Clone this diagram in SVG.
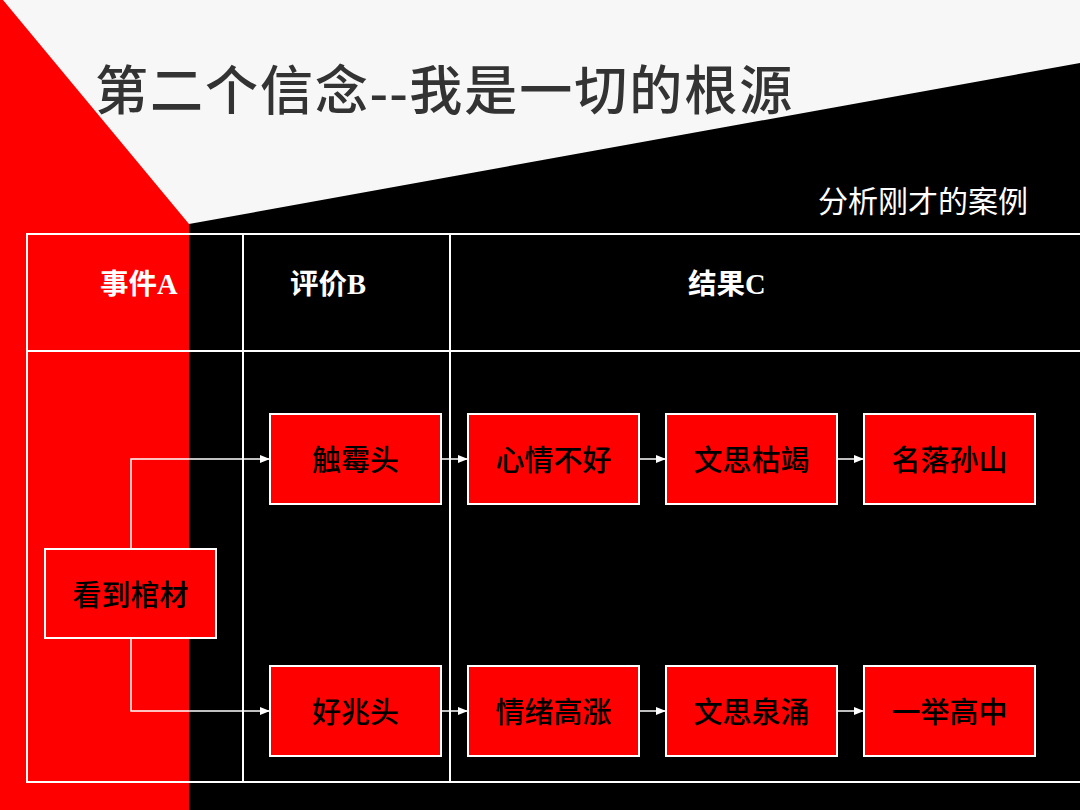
<svg xmlns="http://www.w3.org/2000/svg" width="1080" height="810" viewBox="0 0 1080 810">
<style>
.box{fill:#ff0000;stroke:#ffffff;stroke-width:2}
.bt{font-family:"Noto Sans CJK SC","Noto Sans",sans-serif;font-size:29px;font-weight:500;fill:#000;text-anchor:middle}
.hd{font-family:"Liberation Serif","Noto Sans CJK SC",serif;font-weight:bold;font-size:28.5px;fill:#fff}
.grid{stroke:#fff;stroke-width:2;fill:none}
.conn{stroke:#fff;stroke-width:1.5;fill:none}
</style>
<defs>
<marker id="ah" markerWidth="10" markerHeight="10" refX="9" refY="5" orient="auto" markerUnits="userSpaceOnUse">
<path d="M0,1 L10,5 L0,9 Z" fill="#fff"/>
</marker>
</defs>
<g id="background">
<rect x="0" y="0" width="1080" height="810" fill="#f7f7f7"/>
<polygon points="0,0 3,0 189,224 189,810 0,810" fill="#ff0000"/>
<polygon points="189,224 1080,63 1080,810 189,810" fill="#000"/>
</g>
<g id="title">
<text x="95" y="110" font-family="Liberation Serif, Noto Sans CJK SC, serif" font-size="53" font-weight="500" letter-spacing="2" fill="#333">第二个信念<tspan font-weight="bold">--</tspan>我是一切的根源</text>
</g>
<g id="subtitle">
<text x="818" y="212" font-family="Noto Sans CJK SC, sans-serif" font-size="30" fill="#fff">分析刚才的案例</text>
</g>
<g id="table" class="grid">
<rect x="27" y="234" width="1060" height="548"/>
<line x1="27" y1="351" x2="1080" y2="351"/>
<line x1="243" y1="234" x2="243" y2="782"/>
<line x1="450" y1="234" x2="450" y2="782"/>
</g>
<g id="headers">
<text class="hd" x="100" y="294">事件A</text>
<text class="hd" x="290" y="294">评价B</text>
<text class="hd" x="688" y="294">结果C</text>
</g>
<g id="connectors">
<polyline class="conn" points="131,549 131,459 269,459" marker-end="url(#ah)"/>
<polyline class="conn" points="131,638 131,711 269,711" marker-end="url(#ah)"/>
<line class="conn" x1="441" y1="459" x2="467" y2="459" marker-end="url(#ah)"/>
<line class="conn" x1="639" y1="459" x2="665" y2="459" marker-end="url(#ah)"/>
<line class="conn" x1="837" y1="459" x2="863" y2="459" marker-end="url(#ah)"/>
<line class="conn" x1="441" y1="711" x2="467" y2="711" marker-end="url(#ah)"/>
<line class="conn" x1="639" y1="711" x2="665" y2="711" marker-end="url(#ah)"/>
<line class="conn" x1="837" y1="711" x2="863" y2="711" marker-end="url(#ah)"/>
</g>
<g id="n-kandao"><rect class="box" x="45" y="549" width="171" height="89"/><text class="bt" x="130.5" y="606">看到棺材</text></g>
<g id="n-chumeitou"><rect class="box" x="270" y="414" width="171" height="90"/><text class="bt" x="355.5" y="471">触霉头</text></g>
<g id="n-xinqingbuhao"><rect class="box" x="468" y="414" width="171" height="90"/><text class="bt" x="553.5" y="471">心情不好</text></g>
<g id="n-wensikujie"><rect class="box" x="666" y="414" width="171" height="90"/><text class="bt" x="751.5" y="471">文思枯竭</text></g>
<g id="n-mingluosunshan"><rect class="box" x="864" y="414" width="171" height="90"/><text class="bt" x="949.5" y="471">名落孙山</text></g>
<g id="n-haozhaotou"><rect class="box" x="270" y="666" width="171" height="90"/><text class="bt" x="355.5" y="723">好兆头</text></g>
<g id="n-qingxugaozhang"><rect class="box" x="468" y="666" width="171" height="90"/><text class="bt" x="553.5" y="723">情绪高涨</text></g>
<g id="n-wensiquanyong"><rect class="box" x="666" y="666" width="171" height="90"/><text class="bt" x="751.5" y="723">文思泉涌</text></g>
<g id="n-yijugaozhong"><rect class="box" x="864" y="666" width="171" height="90"/><text class="bt" x="949.5" y="723">一举高中</text></g>
</svg>
